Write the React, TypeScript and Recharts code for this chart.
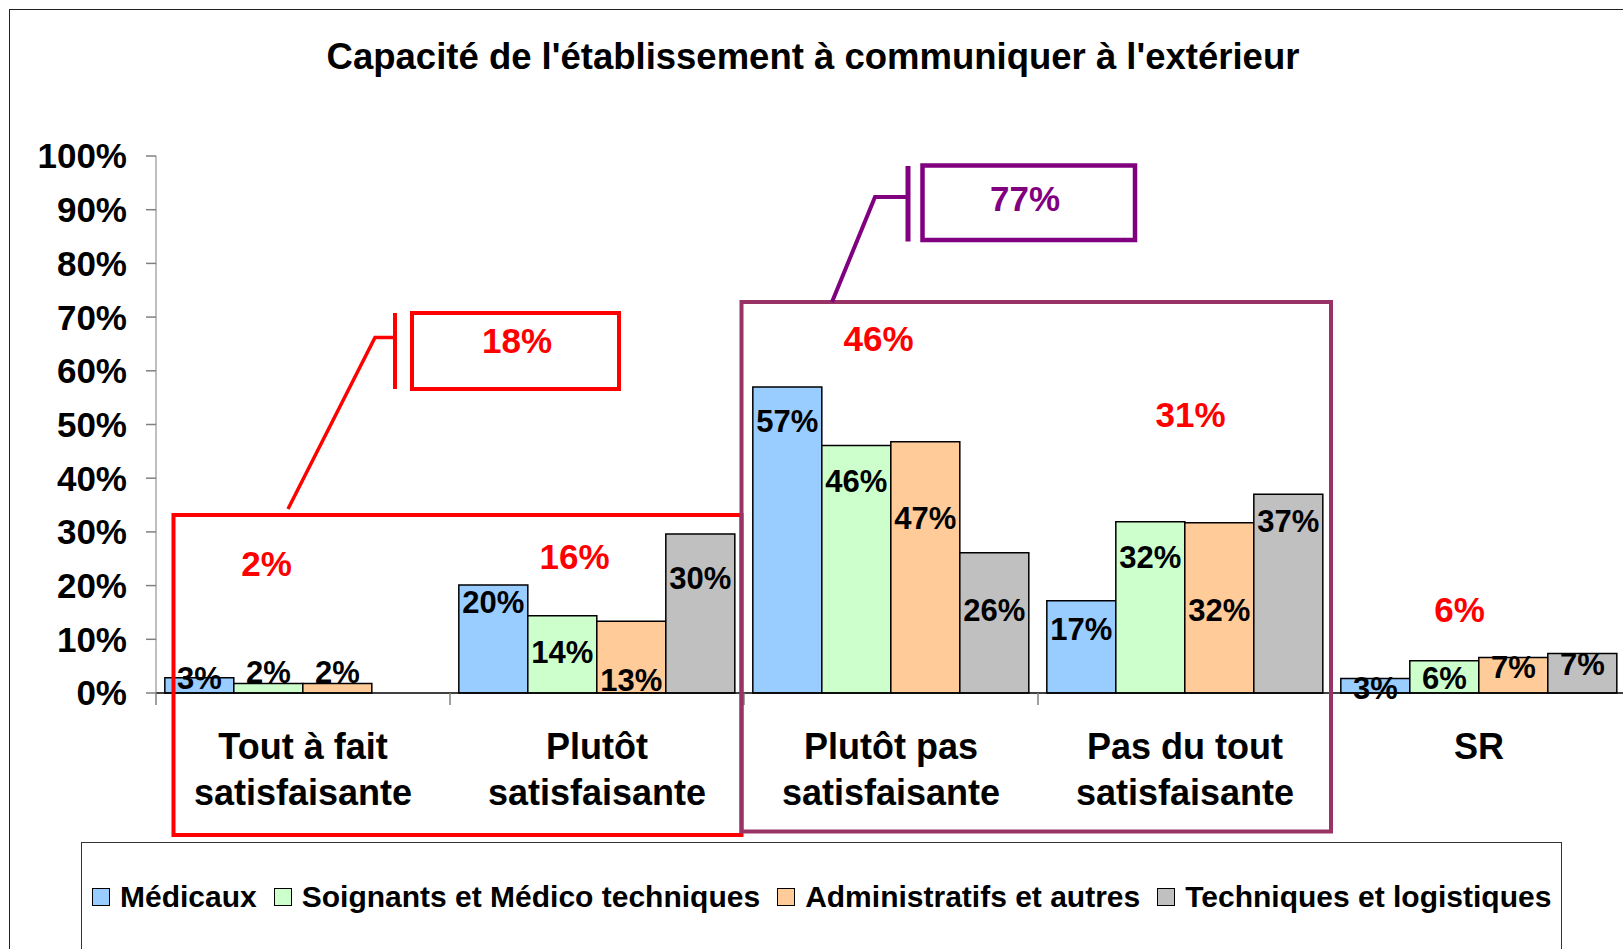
import React from "react";
import { Bar, BarChart, LabelList, ReferenceDot, XAxis, YAxis } from "recharts";

const FONT = "'Liberation Sans', Arial, Helvetica, sans-serif";

const categories = [
  "Tout à fait\nsatisfaisante",
  "Plutôt\nsatisfaisante",
  "Plutôt pas\nsatisfaisante",
  "Pas du tout\nsatisfaisante",
  "SR",
];
const seriesNames = [
  "Médicaux",
  "Soignants et Médico techniques",
  "Administratifs et autres",
  "Techniques et logistiques",
];
const medicaux = [2.85, 20.1, 57, 17.2, 2.7];
const soignants = [1.75, 14.4, 46.1, 31.9, 6.0];
const administratifs = [1.75, 13.35, 46.8, 31.7, 6.6];
const techniques = [0, 29.6, 26.1, 37, 7.35];
const categoryTotals = [2, 16, 46, 31, 6];
const yTicks = [0, 10, 20, 30, 40, 50, 60, 70, 80, 90, 100];

const colors = ["#99CCFF", "#CCFFCC", "#FFCC99", "#C0C0C0"];
const keys = ["med", "soi", "adm", "tec"];
const seriesValues = [medicaux, soignants, administratifs, techniques];

// where each value label sits, in axis units
const labelLevels = [
  [2.87, 17.0, 50.6, 11.9, 1.0],
  [4.0, 7.6, 39.4, 25.4, 2.8],
  [4.0, 2.4, 32.6, 15.5, 4.8],
  [0, 21.4, 15.5, 32.0, 5.4],
];
const totalLevels = [24.2, 25.5, 66.0, 51.8, 15.6];
const totalDx = [-36.5, -22.5, -12.5, 5.5, -19.5];

const rows = categories.map((name, i) => ({
  name,
  med: medicaux[i],
  soi: soignants[i],
  adm: administratifs[i],
  tec: techniques[i],
}));

const makeLabel = (s: number) => {
  const levels = labelLevels[s];
  // zero-height bars get no label entry, so map label index back to category
  const drawn = seriesValues[s].map((v, i) => (v ? i : -1)).filter((i) => i >= 0);
  return (props: any) => {
    const vb = props.viewBox ?? {};
    const x = Number(props.x ?? vb.x);
    const y = Number(props.y ?? vb.y);
    const w = Number(props.width ?? vb.width);
    const h = Number(props.height ?? vb.height);
    const v = Number(props.value);
    if (!v || !isFinite(h)) return null;
    let ci = drawn[props.index] ?? props.index;
    if (props.payload?.name) ci = categories.indexOf(props.payload.name);
    const cy = y + h - (levels[ci] * h) / v;
    return (
      <text
        x={x + w / 2}
        y={cy + 11}
        textAnchor="middle"
        fontFamily={FONT}
        fontWeight="bold"
        fontSize={31}
        fill="#000"
      >
        {Math.round(v)}%
      </text>
    );
  };
};

const CategoryTick = (props: any) => {
  const { x, y, payload } = props;
  const half = payload?.offset ?? 147;
  const lines = String(payload.value).split("\n");
  return (
    <g>
      <line x1={x - half} x2={x - half} y1={y} y2={y + 12} stroke="#808080" strokeWidth={1.5} />
      {lines.map((l, i) => (
        <text
          key={i}
          x={x}
          y={y + 66 + i * 46}
          textAnchor="middle"
          fontFamily={FONT}
          fontWeight="bold"
          fontSize={36}
          fill="#000"
        >
          {l}
        </text>
      ))}
    </g>
  );
};

function Overlay() {
  const red = "#FF0000";
  const plum = "#993366";
  const purple = "#800080";
  const txt = { fontFamily: FONT, fontWeight: "bold" as const, fontSize: 35 };
  return (
    <svg
      width={1623}
      height={949}
      style={{ position: "absolute", left: 0, top: 0, pointerEvents: "none" }}
    >
      <text x={813} y={69} textAnchor="middle" fontFamily={FONT} fontWeight="bold" fontSize={36.5} fill="#000">
        Capacité de l'établissement à communiquer à l'extérieur
      </text>
      {/* red group */}
      <rect x={173.5} y={515} width={568} height={320} fill="none" stroke={red} strokeWidth={4} />
      <polyline points="288,509 375,337.5 395,337.5" fill="none" stroke={red} strokeWidth={3.5} />
      <line x1={395} x2={395} y1={313} y2={389} stroke={red} strokeWidth={4} />
      <rect x={412} y={313} width={207} height={76} fill="none" stroke={red} strokeWidth={4} />
      <text x={517} y={352.5} textAnchor="middle" fill={red} {...txt}>18%</text>
      {/* purple group */}
      <rect x={741.5} y={302} width={589.5} height={529.5} fill="none" stroke={plum} strokeWidth={4} />
      <polyline points="832,302 875,197 908,197" fill="none" stroke={purple} strokeWidth={4} />
      <line x1={908} x2={908} y1={166} y2={241.5} stroke={purple} strokeWidth={5} />
      <rect x={922.5} y={165.5} width={212.5} height={74.5} fill="none" stroke={purple} strokeWidth={4.5} />
      <text x={1025} y={210.5} textAnchor="middle" fill={purple} {...txt}>77%</text>
    </svg>
  );
}

function LegendBox() {
  return (
    <div
      style={{
        position: "absolute",
        left: 81,
        top: 842,
        width: 1481,
        height: 200,
        border: "1.5px solid #333",
        boxSizing: "border-box",
      }}
    >
      <div
        style={{
          position: "absolute",
          left: 10,
          top: 40,
          height: 28,
          display: "flex",
          alignItems: "center",
          gap: 17,
          whiteSpace: "nowrap",
          fontFamily: FONT,
          fontWeight: "bold",
          fontSize: 30,
          color: "#000",
        }}
      >
        {seriesNames.map((n, i) => (
          <div key={n} style={{ display: "flex", alignItems: "center", gap: 10 }}>
            <span
              style={{
                width: 18,
                height: 18,
                background: colors[i],
                border: "1.5px solid #000",
                boxSizing: "border-box",
                display: "inline-block",
              }}
            />
            <span>{n}</span>
          </div>
        ))}
      </div>
    </div>
  );
}

export default function App() {
  return (
    <div
      style={{
        position: "absolute",
        left: 0,
        top: 0,
        width: 1623,
        height: 949,
        overflow: "hidden",
        background: "#fff",
        fontFamily: FONT,
      }}
    >
      <div
        style={{
          position: "absolute",
          left: 9,
          top: 9,
          width: 1700,
          height: 1100,
          border: "1.5px solid #222",
        }}
      />
      <div style={{ position: "absolute", left: 0, top: 0 }}>
        <BarChart
          width={1640}
          height={949}
          data={rows}
          margin={{ top: 156, right: 14, bottom: 156, left: 0 }}
          barCategoryGap="3%"
          barGap={0}
        >
          <XAxis
            dataKey="name"
            interval={0}
            tickSize={0}
            tickMargin={0}
            height={100}
            tickLine={false}
            axisLine={{ stroke: "#000", strokeWidth: 1.5 }}
            tick={<CategoryTick />}
          />
          <YAxis
            type="number"
            domain={[0, 100]}
            ticks={yTicks}
            interval={0}
            width={156}
            tickSize={10}
            tickMargin={19}
            tickFormatter={(v: number) => `${v}%`}
            tick={{ fontSize: 35, fontWeight: "bold", fill: "#000", fontFamily: FONT }}
            tickLine={{ stroke: "#808080", strokeWidth: 1.5 }}
            axisLine={{ stroke: "#808080", strokeWidth: 1 }}
          />
          {keys.map((k, i) => (
            <Bar
              key={k}
              dataKey={k}
              name={seriesNames[i]}
              fill={colors[i]}
              stroke="#000"
              strokeWidth={1.5}
              isAnimationActive={false}
            >
              <LabelList dataKey={k} content={makeLabel(i)} />
            </Bar>
          ))}
          {categoryTotals.map((t, i) => (
            <ReferenceDot
              key={i}
              x={categories[i]}
              y={totalLevels[i]}
              r={0}
              ifOverflow="visible"
              shape={(p: any) => (
                <text
                  x={p.cx + totalDx[i]}
                  y={p.cy + 12.5}
                  textAnchor="middle"
                  fontFamily={FONT}
                  fontWeight="bold"
                  fontSize={35}
                  fill="#FF0000"
                >
                  {t}%
                </text>
              )}
            />
          ))}
        </BarChart>
      </div>
      <Overlay />
      <LegendBox />
    </div>
  );
}
